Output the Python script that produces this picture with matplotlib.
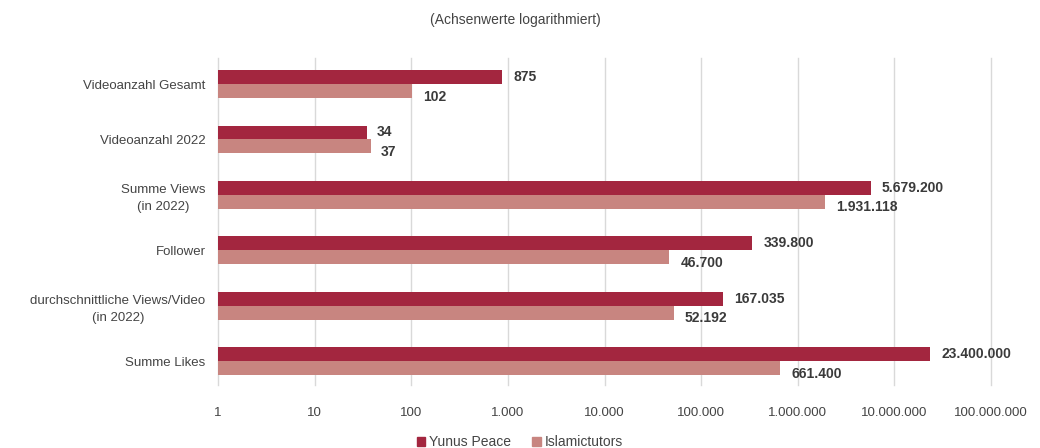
import matplotlib
matplotlib.use("Agg")
import matplotlib.pyplot as plt
from matplotlib.ticker import FixedLocator, FuncFormatter, NullLocator
from matplotlib.patches import Patch
import numpy as np

categories = ["Videoanzahl Gesamt", "Videoanzahl 2022", "Summe Views\n(in 2022)",
              "Follower", "durchschnittliche Views/Video\n(in 2022)", "Summe Likes"]
yunus = [875, 34, 5679200, 339800, 167035, 23400000]
islamic = [102, 37, 1931118, 46700, 52192, 661400]
series_names = ["Yunus Peace", "Islamictutors"]
tick_values = [1, 10, 100, 1000, 10000, 100000, 1000000, 10000000, 100000000]

c_dark = "#A3263F"
c_light = "#C88580"

plt.rcParams['font.family'] = ['Liberation Sans', 'DejaVu Sans']

def fmt(v):
    return f"{int(v):,}".replace(",", ".")

fig = plt.figure(figsize=(10.4, 4.48), dpi=100)
ax = fig.add_axes([218/1040, 1-385/448, (991-218)/1040, (385-58)/448])

y = np.arange(len(categories))
h = 0.252
ax.barh(y - h/2, yunus, height=h, color=c_dark, left=1, zorder=3)
ax.barh(y + h/2, islamic, height=h, color=c_light, left=1, zorder=3)
ax.set_xscale('log')
ax.set_xlim(1, 1e8)
ax.set_ylim(5.43, -0.47)

for i in range(len(categories)):
    ax.annotate(fmt(yunus[i]), (yunus[i], y[i] - h/2), xytext=(8, 0), textcoords='offset points',
                va='center', ha='left', fontsize=10, fontweight='bold', color='#3a3a3a')
    ax.annotate(fmt(islamic[i]), (islamic[i], y[i] + h/2), xytext=(8, -4), textcoords='offset points',
                va='center', ha='left', fontsize=10, fontweight='bold', color='#3a3a3a')

ax.xaxis.set_major_locator(FixedLocator(tick_values))
ax.xaxis.set_minor_locator(NullLocator())
ax.xaxis.set_major_formatter(FuncFormatter(lambda v, p: fmt(v)))
ax.grid(axis='x', color='#d9d9d9', linewidth=1, zorder=0)
for gl in ax.get_xgridlines():
    gl.set_clip_on(False)
for s in ax.spines.values():
    s.set_visible(False)
ax.tick_params(axis='both', length=0, labelsize=9.5, colors='#444444')
ax.tick_params(axis='x', pad=16)
ax.tick_params(axis='y', pad=9)
ax.set_yticks(y)
ax.set_yticklabels(categories, fontsize=9.5, color='#444444')
for t in ax.get_yticklabels():
    t.set_multialignment('center')
    t.set_linespacing(1.5)

fig.text(515/1040, 1-20/448, "(Achsenwerte logarithmiert)", ha='center', va='center',
         fontsize=10, color='#444444')

handles = [Patch(color=c_dark), Patch(color=c_light)]
fig.legend(handles, series_names, loc='center', bbox_to_anchor=(0.5, 1-442/448), ncol=2,
           frameon=False, fontsize=10, handlelength=0.6, handleheight=0.6, handletextpad=0.3,
           columnspacing=1.5, labelcolor='#444444')

fig.savefig("out.png", dpi=100)
